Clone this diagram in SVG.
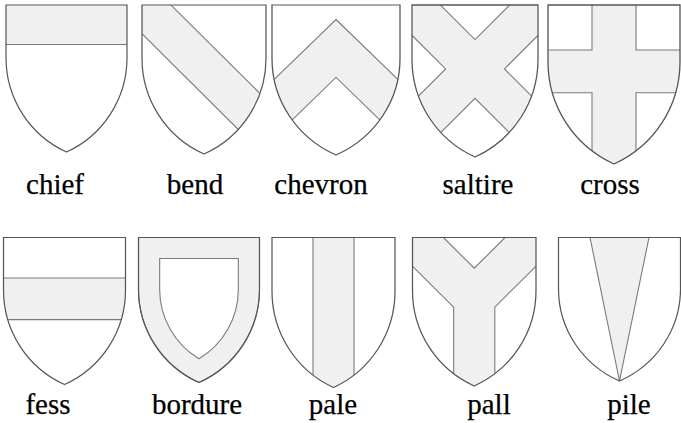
<svg xmlns="http://www.w3.org/2000/svg" xmlns:xlink="http://www.w3.org/1999/xlink" width="681" height="423" viewBox="0 0 681 423">
<style>
.field{fill:#ffffff;stroke:none}
.ord{fill:#f0f0f0;stroke:#7a7a7a;stroke-width:1.1;vector-effect:non-scaling-stroke;stroke-linejoin:miter}
.inner{fill:#ffffff;stroke:#7a7a7a;stroke-width:1.1;vector-effect:non-scaling-stroke}
.outline{fill:none;stroke:#555555;stroke-width:1.2;vector-effect:non-scaling-stroke}
text{font-family:'Liberation Serif',serif;font-size:29px;fill:#000;stroke:#000;stroke-width:0.25;text-anchor:middle}
</style>
<defs>
<path id="shield" d="M0,0 H120 V52 A102.1 102.1 0 0 1 60 145 A102.1 102.1 0 0 1 0 52 Z"/>
<clipPath id="sc"><use xlink:href="#shield"/></clipPath>
</defs>
<g id="connectors"/>

<g id="chief">
<g transform="translate(6,5) scale(1.0083,1.0138)">
<use xlink:href="#shield" class="field"/>
<g clip-path="url(#sc)"><rect class="ord" x="-10" y="-10" width="140" height="49"/></g>
<use xlink:href="#shield" class="outline"/>
</g>
<text x="55" y="194">chief</text>
</g>

<g id="bend">
<g transform="translate(142,5) scale(1.0333,1.0276)">
<use xlink:href="#shield" class="field"/>
<g clip-path="url(#sc)"><polygon class="ord" points="-100,-128 250,222 250,278 -100,-72"/></g>
<use xlink:href="#shield" class="outline"/>
</g>
<text x="195" y="194">bend</text>
</g>

<g id="chevron">
<g transform="translate(272,5) scale(1.0667,1.0345)">
<use xlink:href="#shield" class="field"/>
<g clip-path="url(#sc)"><polygon class="ord" points="60,14 160,114 160,170 60,70 -40,170 -40,114"/></g>
<use xlink:href="#shield" class="outline"/>
</g>
<text x="321" y="194">chevron</text>
</g>

<g id="saltire">
<g transform="translate(412,5) scale(1.05,1.0483)">
<use xlink:href="#shield" class="field"/>
<g clip-path="url(#sc)"><polygon class="ord" points="-20,-47 60,33 140,-47 196,-47 88,61 220,193 164,193 60,89 -60,209 -116,209 32,61 -76,-47"/></g>
<use xlink:href="#shield" class="outline"/>
</g>
<text x="478" y="194">saltire</text>
</g>

<g id="cross">
<g transform="translate(548,5) scale(1.1,1.0966)">
<use xlink:href="#shield" class="field"/>
<g clip-path="url(#sc)"><polygon class="ord" points="40,-10 80,-10 80,41 130,41 130,80 80,80 80,200 40,200 40,80 -10,80 -10,41 40,41"/></g>
<use xlink:href="#shield" class="outline"/>
</g>
<text x="610" y="194">cross</text>
</g>

<g id="fess">
<g transform="translate(3.5,237.5) scale(1.0167,1.0138)">
<use xlink:href="#shield" class="field"/>
<g clip-path="url(#sc)"><rect class="ord" x="-10" y="40" width="140" height="41"/></g>
<use xlink:href="#shield" class="outline"/>
</g>
<text x="48" y="414">fess</text>
</g>

<g id="bordure">
<g transform="translate(138.5,237.5) scale(1.0083,1)">
<use xlink:href="#shield" class="ord"/>
<path class="inner" d="M21,21 H99 V52 A81.1 81.1 0 0 1 60 121.3 A81.1 81.1 0 0 1 21 52 Z"/>
<use xlink:href="#shield" class="outline"/>
</g>
<text x="197" y="414">bordure</text>
</g>

<g id="pale">
<g transform="translate(272,237.5) scale(1.025,1.0345)">
<use xlink:href="#shield" class="field"/>
<g clip-path="url(#sc)"><rect class="ord" x="40" y="-10" width="40" height="170"/></g>
<use xlink:href="#shield" class="outline"/>
</g>
<text x="333" y="414">pale</text>
</g>

<g id="pall">
<g transform="translate(412.5,237.5) scale(1.0292,1.0241)">
<use xlink:href="#shield" class="field"/>
<g clip-path="url(#sc)"><polygon class="ord" points="30,-10 30,0 60,30 90,0 90,-10 130,-10 130,18 80,68 80,200 40,200 40,68 -10,18 -10,-10"/></g>
<use xlink:href="#shield" class="outline"/>
</g>
<text x="489" y="414">pall</text>
</g>

<g id="pile">
<g transform="translate(558.5,237.5) scale(1.0167,0.9897)">
<use xlink:href="#shield" class="field"/>
<g clip-path="url(#sc)"><polygon class="ord" points="31,-10 31,0 60,145 89,0 89,-10"/></g>
<use xlink:href="#shield" class="outline"/>
</g>
<text x="629" y="414">pile</text>
</g>
</svg>
